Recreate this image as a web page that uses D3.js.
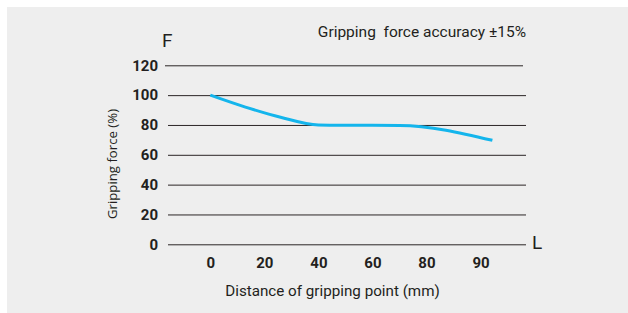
<!DOCTYPE html>
<html>
<head>
<meta charset="utf-8">
<script src="https://cdn.jsdelivr.net/npm/d3@7.9.0/dist/d3.min.js"></script>
<style>
  html, body { margin: 0; padding: 0; background: #fff; }
  svg { display: block; }
  text { fill: #231f20; }
</style>
</head>
<body>
<svg id="chart" width="628" height="313"></svg>
<script>
// chart values
const xCategories = ['0', '20', '40', '60', '80', '90'];
const yTicks = [0, 20, 40, 60, 80, 100, 120];
// force curve, distance in mm / force in %
const curveDist = [0, 13, 26, 40, 50, 70, 92.2];
const curveForce = [100, 92, 85.2, 80, 79.8, 79.7, 69.7];

const svg = d3.select('#chart');

svg.append('rect')
    .attr('x', 7).attr('y', 7)
    .attr('width', 621).attr('height', 306)
    .attr('fill', '#eeeeee');

let x = d3.scalePoint()
    .domain(xCategories)
    .range([210.3, 480.5]);

// the curve uses the same positions, as a continuous mm scale
let xLin = d3.scaleLinear()
    .domain(xCategories.map(Number))
    .range(xCategories.map((c) => x(c)));

let y = d3.scaleLinear()
    .domain([0, 120])
    .range([244.3, 65.3]);

const gridLeft = 168;
const gridRight = 526;

// y axis + gridlines
let yAxis = svg.append('g')
    .attr('transform', `translate(${gridLeft},0)`)
    .call(d3.axisLeft(y)
        .tickValues(yTicks)
        .tickSize(-(gridRight - gridLeft))
        .tickPadding(10));
yAxis.select('.domain').remove();
yAxis.selectAll('.tick line')
    .attr('stroke', '#2b2526')
    .attr('stroke-width', 1);
yAxis.selectAll('.tick line')
    .filter((d) => d === 120)
    .attr('x1', -3).attr('x2', gridRight - gridLeft - 3);
yAxis.selectAll('.tick text')
    .attr('font-family', 'Roboto, sans-serif')
    .attr('font-weight', 'bold')
    .attr('font-size', 15)
    .attr('fill', '#231f20');

// x axis labels
let xAxis = svg.append('g')
    .attr('transform', `translate(0,${y(0)})`)
    .call(d3.axisBottom(x).tickSize(0).tickPadding(13.4));
xAxis.select('.domain').remove();
xAxis.selectAll('.tick text')
    .attr('font-family', 'Roboto, sans-serif')
    .attr('font-weight', 'bold')
    .attr('font-size', 15)
    .attr('fill', '#231f20');

// curve
let line = d3.line()
    .x((d) => xLin(d[0]))
    .y((d) => y(d[1]))
    .curve(d3.curveMonotoneX);

svg.append('path')
    .datum(curveDist.map((d, i) => [d, curveForce[i]]))
    .attr('d', line)
    .attr('fill', 'none')
    .attr('stroke', '#14b5ec')
    .attr('stroke-width', 3);

// labels
svg.append('text')
    .attr('x', 162).attr('y', 46.7)
    .attr('font-family', 'Roboto, sans-serif')
    .attr('font-size', 19)
    .text('F');

svg.append('text')
    .attr('x', 532).attr('y', 249.3)
    .attr('font-family', 'Roboto, sans-serif')
    .attr('font-size', 19)
    .text('L');

svg.append('text')
    .attr('x', 526).attr('y', 36.7)
    .attr('text-anchor', 'end')
    .attr('font-family', 'Roboto, sans-serif')
    .attr('font-size', 15.5)
    .style('white-space', 'pre')
    .text('Gripping  force accuracy ±15%');

svg.append('text')
    .attr('x', 332.5).attr('y', 295.7)
    .attr('text-anchor', 'middle')
    .attr('font-family', 'Roboto, sans-serif')
    .attr('font-size', 15.2)
    .text('Distance of gripping point (mm)');

svg.append('text')
    .attr('transform', 'translate(116.5,164) rotate(-90)')
    .attr('text-anchor', 'middle')
    .attr('font-family', '"Open Sans", sans-serif')
    .attr('font-size', 13.2)
    .attr('fill', '#333')
    .text('Gripping force (%)');
</script>
</body>
</html>
